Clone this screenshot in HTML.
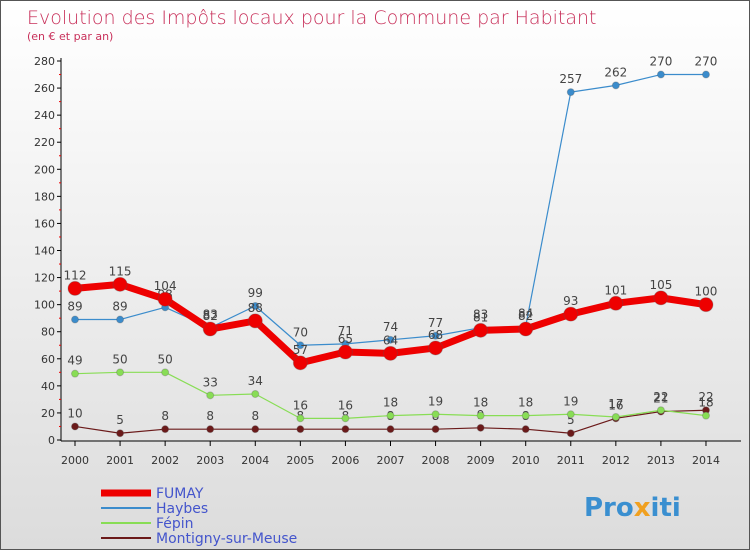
<!DOCTYPE html>
<html><head><meta charset="utf-8"><style>
body{margin:0}
#c{width:748px;height:548px;border:1px solid #555;background:linear-gradient(#ffffff,#dcdcdc);position:relative;overflow:hidden;font-family:"DejaVu Sans","Liberation Sans",sans-serif}
</style></head><body>
<div id="c">
<svg width="748" height="548" id="svg">
<text x="26" y="23" font-size="19" fill="#c8305a" font-weight="200" style="font-family:'DejaVu Sans ExtraLight','DejaVu Sans',sans-serif">Evolution des Impôts locaux pour la Commune par Habitant</text>
<text x="26" y="39" font-size="11" fill="#c8305a" style="font-family:'DejaVu Sans ExtraLight','DejaVu Sans',sans-serif">(en € et par an)</text>
<g id="axes"></g><g id="series"></g><g id="legend"></g>
<text x="583" y="515" font-size="26" font-weight="bold" fill="#3a8fd0">Pro<tspan fill="#f0a020">x</tspan>iti</text>
</svg></div>
<script>
const years=[2000,2001,2002,2003,2004,2005,2006,2007,2008,2009,2010,2011,2012,2013,2014];
const yTicks=[0,20,40,60,80,100,120,140,160,180,200,220,240,260,280];
const fumay=[112,115,104,82,88,57,65,64,68,81,82,93,101,105,100];
const haybes=[89,89,98,83,99,70,71,74,77,83,84,257,262,270,270];
const fepin=[49,50,50,33,34,16,16,18,19,18,18,19,17,22,18];
const montigny=[10,5,8,8,8,8,8,8,8,9,8,5,16,21,22];
const NS="http://www.w3.org/2000/svg";
const X=i=>74+i*45.07, Y=v=>439-v*(379/280);
function mk(t,a,p){const e=document.createElementNS(NS,t);for(const k in a)e.setAttribute(k,a[k]);p.appendChild(e);return e;}
const ax=document.getElementById('axes');
let l=mk('line',{x1:60,y1:Y(280)-3,x2:60,y2:440,stroke:'#000'},ax);


l=mk('line',{x1:60,y1:440,x2:740,y2:440,stroke:'#000'},ax);


yTicks.forEach(v=>{
 mk('line',{x1:56,y1:Y(v),x2:60,y2:Y(v),stroke:'#000'},ax);
 if(v<280)mk('line',{x1:58,y1:Y(v+10),x2:60,y2:Y(v+10),stroke:'#e00'},ax);
 const t=mk('text',{x:54,y:Y(v)+4,'font-size':11,fill:'#333','text-anchor':'end'},ax);t.textContent=v;
 
 
});
years.forEach((y,i)=>{
 mk('line',{x1:X(i),y1:440,x2:X(i),y2:445,stroke:'#000'},ax);
 const t=mk('text',{x:X(i),y:463,'font-size':11,fill:'#333','text-anchor':'middle'},ax);t.textContent=y;
 
 
});
const sg=document.getElementById('series');
function series(d,col,w,r,name){
 const g=mk('g',{},sg);
 
 
 mk('polyline',{points:d.map((v,i)=>X(i)+','+Y(v)).join(' '),fill:'none',stroke:col,'stroke-width':w,'stroke-linejoin':'round'},g);
 d.forEach((v,i)=>{
  const c=mk('circle',{cx:X(i),cy:Y(v),r:r,fill:col,stroke:'#555','stroke-opacity':0.3},g);
  
  
  const t=mk('text',{x:X(i),y:Y(v)-9,'font-size':12,fill:'#444','text-anchor':'middle'},g);t.textContent=v;
  
  
 });
}
series(montigny,'#6b1a1a',1.2,3.5,'montigny');
series(fepin,'#88dd55',1.2,3.5,'fepin');
series(haybes,'#3b8ccc',1.2,3.5,'haybes');
series(fumay,'#ee0000',7,7,'fumay');
const lg=document.getElementById('legend');
[['FUMAY','#ee0000',7],['Haybes','#3b8ccc',2],['Fépin','#88dd55',2],['Montigny-sur-Meuse','#6b1a1a',2]].forEach((s,i)=>{
 const y=492+i*15;
 const g=mk('g',{},lg);
 
 
 mk('line',{x1:100,y1:y,x2:150,y2:y,stroke:s[1],'stroke-width':s[2]},g);
 const t=mk('text',{x:155,y:y+5,'font-size':14,fill:'#4455cc'},g);t.textContent=s[0];
});
</script>
</body></html>
